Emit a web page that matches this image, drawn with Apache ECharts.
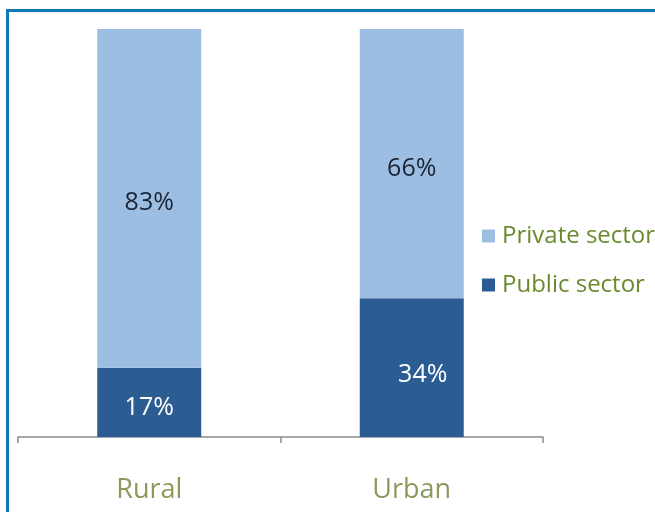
<!DOCTYPE html>
<html>
<head>
<meta charset="utf-8">
<script src="https://cdn.jsdelivr.net/npm/echarts@6/dist/echarts.min.js"></script>
<style>
  html, body { margin: 0; padding: 0; background: #ffffff; }
  #chart { width: 655px; height: 512px; }
</style>
</head>
<body>
<div id="chart"></div>
<script>
// Share of health facilities by sector, rural vs urban (percent)
const categories = ['Rural', 'Urban'];
const publicSector = [17, 34];
const privateSector = [83, 66];
const seriesNames = ['Public sector', 'Private sector'];

const FONT = '"Open Sans", Lato, sans-serif';

// the Urban public-sector label sits a little right of the bar centre
const publicLabelOffsets = [[0, 6], [11, 7]];

const chart = echarts.init(document.getElementById('chart'), null, { renderer: 'canvas' });

chart.setOption({
  backgroundColor: '#ffffff',
  animation: false,
  graphic: [{
    type: 'rect',
    shape: { x: 7.5, y: 10.5, width: 700, height: 560 },
    style: { fill: 'none', stroke: '#1176b8', lineWidth: 3 },
    z: 100
  }],
  grid: { left: 18, right: 112, top: 29, bottom: 75 },
  legend: {
    orient: 'vertical',
    left: 477,
    top: 218,
    itemWidth: 13,
    itemHeight: 13,
    itemGap: 23,
    icon: 'rect',
    data: [seriesNames[1], seriesNames[0]],
    textStyle: { color: '#6a8a2c', fontSize: 24, lineHeight: 26, fontFamily: FONT, padding: [0, 0, 0, 2] }
  },
  xAxis: {
    type: 'category',
    data: categories,
    boundaryGap: true,
    axisLine: { lineStyle: { color: '#8c8c8c', width: 1.5 } },
    axisTick: { show: true, length: 6, lineStyle: { color: '#8c8c8c', width: 1.5 } },
    axisLabel: { color: '#8a9a5b', fontSize: 27, lineHeight: 28, fontFamily: FONT, margin: 39 }
  },
  yAxis: {
    type: 'value',
    min: 0,
    max: 100,
    show: false,
    splitLine: { show: false }
  },
  series: [
    {
      name: seriesNames[0],
      type: 'bar',
      stack: 'total',
      barWidth: 104,
      data: publicSector.map((v, i) => ({ value: v, label: { offset: publicLabelOffsets[i] } })),
      itemStyle: { color: '#2c5d92' },
      label: {
        show: true,
        position: 'inside',
        formatter: '{c}%',
        color: '#ffffff',
        fontSize: 25,
        fontFamily: FONT
      }
    },
    {
      name: seriesNames[1],
      type: 'bar',
      stack: 'total',
      barWidth: 104,
      data: privateSector,
      itemStyle: { color: '#9cbee3' },
      label: {
        show: true,
        position: 'inside',
        formatter: '{c}%',
        color: '#1c2535',
        fontSize: 25,
        fontFamily: FONT,
        offset: [0, 5]
      }
    }
  ]
});
</script>
</body>
</html>
